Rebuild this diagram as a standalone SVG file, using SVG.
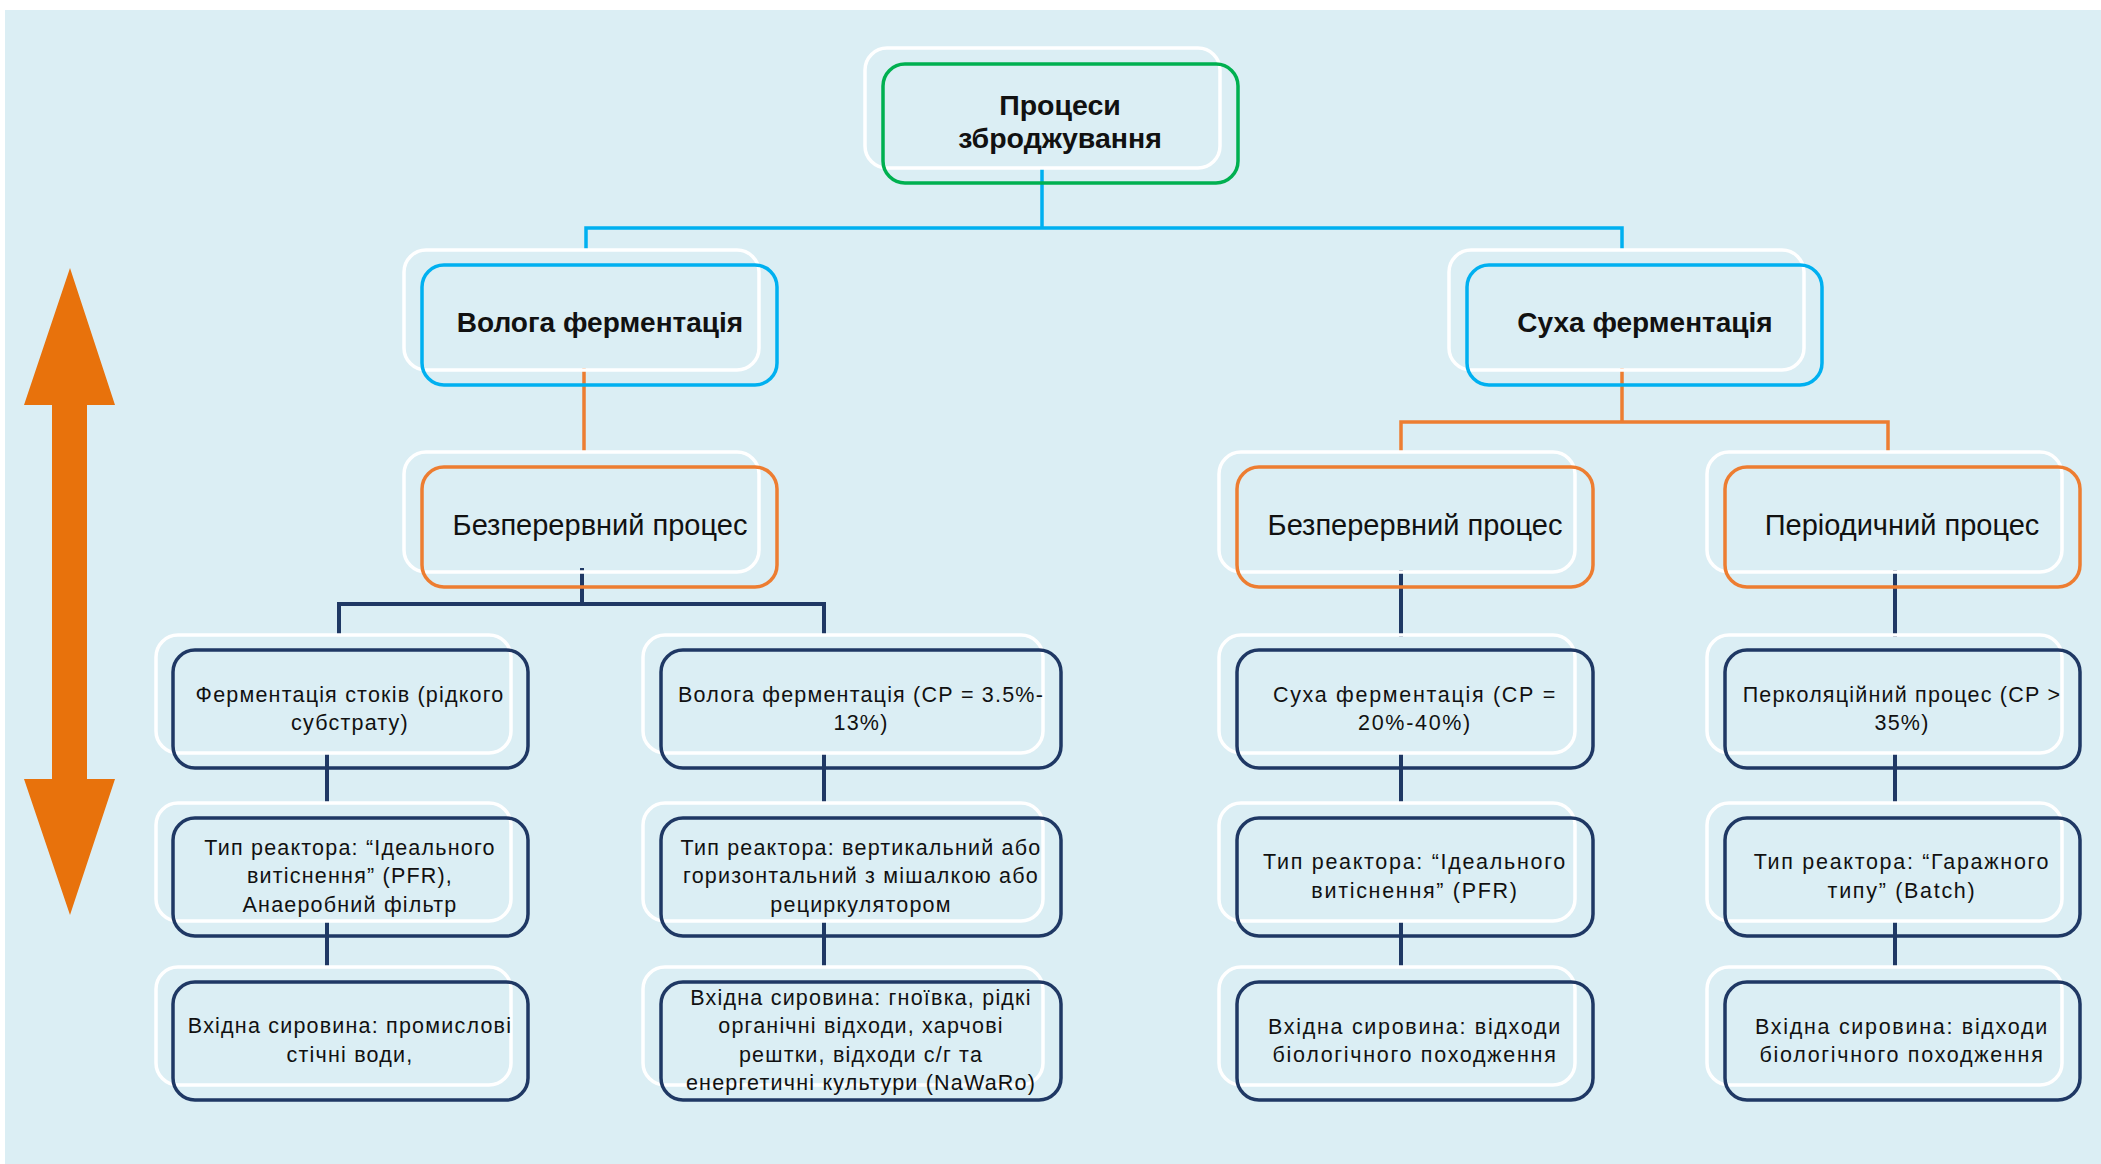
<svg xmlns="http://www.w3.org/2000/svg" width="2101" height="1164" viewBox="0 0 2101 1164">
<defs>
<style>
.bg{fill:#dbeef4}
.sh{fill:none;stroke:#ffffff;stroke-width:3.5}
.bx{fill:none;stroke-width:3.5}
.g{stroke:#00b050}
.b{stroke:#00b0f0}
.o{stroke:#ed7d31}
.n{stroke:#1f3864}
.t{font-family:"Liberation Sans",Arial,sans-serif;fill:#111;text-anchor:middle}
.t1{font-size:28.5px;font-weight:bold}
.t2{font-size:28px;font-weight:bold}
.t3{font-size:29px}
.t4{font-size:21.5px;letter-spacing:1.2px}
.w{letter-spacing:1.7px}
.cb{fill:none;stroke:#00b0f0;stroke-width:3.5}
.co{fill:none;stroke:#ed7d31;stroke-width:3.5}
.cn{fill:none;stroke:#1f3864;stroke-width:4}
</style>
</defs>
<rect class="bg" x="5" y="10" width="2096" height="1154"/>
<polygon id="arrow" fill="#e8720c" points="70,268 115,405 87,405 87,779 115,779 70,915 24,779 52,779 52,405 24,405"/>
<g id="connectors">
<path class="cb" d="M1042 168 V228 M586 250 V228 H1622 V250"/>
<path class="co" d="M584 368 V453 M1622 368 V422 M1401 453 V422 H1888 V453"/>
<path class="cn" d="M582 568 V604 M339 634 V604 H824 V634 M327 753 V803 M327 922 V967 M824 753 V803 M824 922 V967 M1401 570 V637 M1401 752 V804 M1401 921 V967 M1895 570 V637 M1895 752 V804 M1895 921 V967"/>
</g>
<g id="root">
<rect class="sh" x="865" y="48" width="355" height="120" rx="22"/>
<rect class="bx g" x="883" y="64" width="355" height="119" rx="22"/>
<text class="t t1" x="1060" y="115">Процеси</text>
<text class="t t1" x="1060" y="148">зброджування</text>
</g>
<g id="wet">
<rect class="sh" x="404" y="250" width="355" height="120" rx="22"/>
<rect class="bx b" x="422" y="265" width="355" height="120" rx="22"/>
<text class="t t2" x="600" y="332">Волога ферментація</text>
</g>
<g id="dry">
<rect class="sh" x="1449" y="250" width="355" height="120" rx="22"/>
<rect class="bx b" x="1467" y="265" width="355" height="120" rx="22"/>
<text class="t t2" x="1645" y="332">Суха ферментація</text>
</g>
<g id="wet-cont">
<rect class="sh" x="404" y="452" width="355" height="120" rx="22"/>
<rect class="bx o" x="422" y="467" width="355" height="120" rx="22"/>
<text class="t t3" x="600" y="535">Безперервний процес</text>
</g>
<g id="dry-cont">
<rect class="sh" x="1219" y="452" width="356" height="120" rx="22"/>
<rect class="bx o" x="1237" y="467" width="356" height="120" rx="22"/>
<text class="t t3" x="1415" y="535">Безперервний процес</text>
</g>
<g id="dry-batch">
<rect class="sh" x="1707" y="452" width="355" height="120" rx="22"/>
<rect class="bx o" x="1725" y="467" width="355" height="120" rx="22"/>
<text class="t t3" x="1902" y="535">Періодичний процес</text>
</g>
<g id="c1r1">
<rect class="sh" x="156" y="635" width="355" height="118" rx="22"/>
<rect class="bx n" x="173" y="650" width="355" height="118" rx="22"/>
<text class="t t4" x="350" y="702">Ферментація стоків (рідкого</text>
<text class="t t4" x="350" y="730">субстрату)</text>
</g>
<g id="c1r2">
<rect class="sh" x="156" y="803" width="355" height="118" rx="22"/>
<rect class="bx n" x="173" y="818" width="355" height="118" rx="22"/>
<text class="t t4" x="350" y="855">Тип реактора:  “Ідеального</text>
<text class="t t4" x="350" y="883">витіснення” (PFR),</text>
<text class="t t4" x="350" y="912">Анаеробний фільтр</text>
</g>
<g id="c1r3">
<rect class="sh" x="156" y="967" width="355" height="118" rx="22"/>
<rect class="bx n" x="173" y="982" width="355" height="118" rx="22"/>
<text class="t t4" x="350" y="1033">Вхідна сировина: промислові</text>
<text class="t t4" x="350" y="1062">стічні води,</text>
</g>
<g id="c2r1">
<rect class="sh" x="643" y="635" width="400" height="118" rx="22"/>
<rect class="bx n" x="661" y="650" width="400" height="118" rx="22"/>
<text class="t t4" x="861" y="702">Волога ферментація (СР  = 3.5%-</text>
<text class="t t4" x="861" y="730">13%)</text>
</g>
<g id="c2r2">
<rect class="sh" x="643" y="803" width="400" height="118" rx="22"/>
<rect class="bx n" x="661" y="818" width="400" height="118" rx="22"/>
<text class="t t4" x="861" y="855">Тип реактора: вертикальний або</text>
<text class="t t4" x="861" y="883">горизонтальний з мішалкою або</text>
<text class="t t4" x="861" y="912">рециркулятором</text>
</g>
<g id="c2r3">
<rect class="sh" x="643" y="967" width="400" height="118" rx="22"/>
<rect class="bx n" x="661" y="982" width="400" height="118" rx="22"/>
<text class="t t4" x="861" y="1005">Вхідна сировина: гноївка, рідкі</text>
<text class="t t4" x="861" y="1033">органічні відходи, харчові</text>
<text class="t t4" x="861" y="1062">рештки, відходи с/г та</text>
<text class="t t4" x="861" y="1090">енергетичні культури (NaWaRo)</text>
</g>
<g id="c3r1">
<rect class="sh" x="1219" y="635" width="356" height="118" rx="22"/>
<rect class="bx n" x="1237" y="650" width="356" height="118" rx="22"/>
<text class="t t4 w" x="1415" y="702">Суха ферментація (СР  =</text>
<text class="t t4 w" x="1415" y="730">20%-40%)</text>
</g>
<g id="c3r2">
<rect class="sh" x="1219" y="803" width="356" height="118" rx="22"/>
<rect class="bx n" x="1237" y="818" width="356" height="118" rx="22"/>
<text class="t t4 w" x="1415" y="869">Тип реактора:  “Ідеального</text>
<text class="t t4 w" x="1415" y="898">витіснення” (PFR)</text>
</g>
<g id="c3r3">
<rect class="sh" x="1219" y="967" width="356" height="118" rx="22"/>
<rect class="bx n" x="1237" y="982" width="356" height="118" rx="22"/>
<text class="t t4 w" x="1415" y="1034">Вхідна сировина: відходи</text>
<text class="t t4 w" x="1415" y="1062">біологічного походження</text>
</g>
<g id="c4r1">
<rect class="sh" x="1707" y="635" width="355" height="118" rx="22"/>
<rect class="bx n" x="1725" y="650" width="355" height="118" rx="22"/>
<text class="t t4" x="1902" y="702">Перколяційний процес (СР &gt;</text>
<text class="t t4" x="1902" y="730">35%)</text>
</g>
<g id="c4r2">
<rect class="sh" x="1707" y="803" width="355" height="118" rx="22"/>
<rect class="bx n" x="1725" y="818" width="355" height="118" rx="22"/>
<text class="t t4 w" x="1902" y="869">Тип реактора: “Гаражного</text>
<text class="t t4 w" x="1902" y="898">типу” (Batch)</text>
</g>
<g id="c4r3">
<rect class="sh" x="1707" y="967" width="355" height="118" rx="22"/>
<rect class="bx n" x="1725" y="982" width="355" height="118" rx="22"/>
<text class="t t4 w" x="1902" y="1034">Вхідна сировина: відходи</text>
<text class="t t4 w" x="1902" y="1062">біологічного походження</text>
</g>
</svg>
